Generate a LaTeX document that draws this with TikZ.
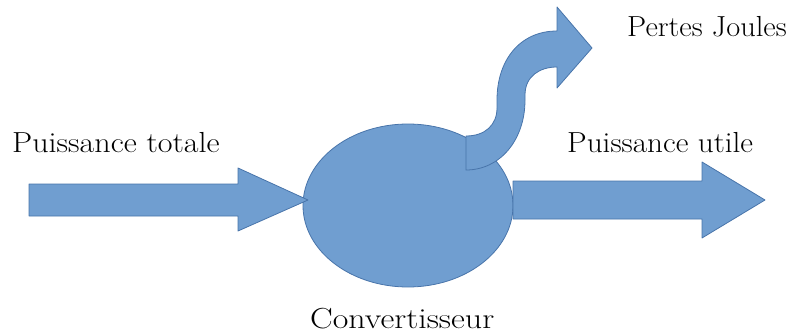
\documentclass[tikz,border=0pt]{standalone}
\usetikzlibrary{shapes.geometric}
\definecolor{blockfill}{RGB}{112,158,208}
\definecolor{blockline}{RGB}{72,116,170}
\tikzset{
  block/.style={fill=blockfill, draw=blockline, line width=0.8pt, line join=round},
  lbl/.style={anchor=base west, inner sep=0pt, font=\fontsize{29}{31}\selectfont}
}
\begin{document}
\begin{tikzpicture}[x=1pt,y=-1pt]
\useasboundingbox (0,0) rectangle (791,334);
\node[block, ellipse, minimum width=210pt, minimum height=163pt, inner sep=0pt] (conv) at (408,205.5) {};
% input arrow
\draw[block] (29,184) -- (238,184) -- (238,168) -- (308,200) -- (238,231) -- (238,216) -- (29,216) -- cycle;
% output arrow
\draw[block] (513,181) -- (702,181) -- (702,162) -- (765,200) -- (702,238) -- (702,219) -- (513,219) -- cycle;
% losses arrow
\draw[block] (466,136) .. controls (485,136) and (497,125) .. (497,108) -- (497,100)
  .. controls (497,60) and (520,31) .. (557,31) -- (557,7) -- (592,48) -- (557,88) -- (557,67)
  .. controls (540,67) and (525,76) .. (525,95) -- (525,100)
  .. controls (525,140) and (500,170) .. (466,170) -- cycle;
\node[lbl] (tot) at (12,152) {\scalebox{1.105}[1]{Puissance totale}};
\node[lbl] (ut) at (567,152) {\scalebox{1.075}[1]{Puissance utile}};
\node[lbl] (pj) at (627,37) {\scalebox{1.05}[1]{Pertes Joules}};
\node[lbl] (cv) at (310,328) {\scalebox{1.17}[1]{Convertisseur}};
\end{tikzpicture}
\end{document}
